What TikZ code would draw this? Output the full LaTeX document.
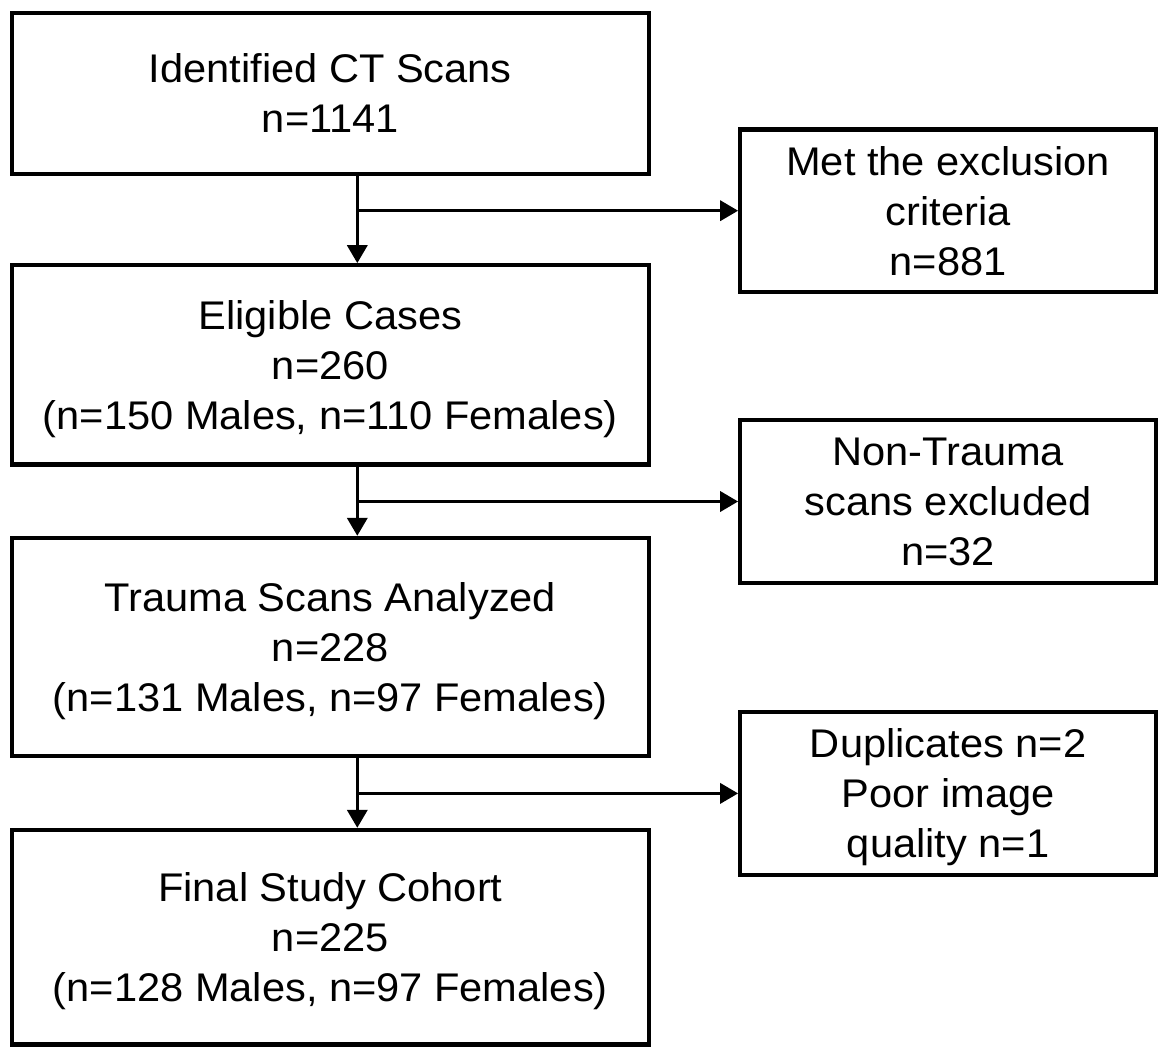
\documentclass[tikz,border=0pt]{standalone}
\usepackage{fontspec}
\setmainfont{Liberation Sans}[FakeStretch=1.04]
\usetikzlibrary{arrows.meta}
\begin{document}
\begin{tikzpicture}[x=1pt,y=-1pt,
  box/.style={draw=black, line width=4.3pt, rectangle, inner sep=0pt, align=center,
              font=\fontsize{40}{50}\selectfont, text depth=0pt},
  leftbox/.style={box, minimum width=636.7pt},
  rightbox/.style={box, minimum width=415.7pt, minimum height=162.7pt},
  flow/.style={line width=3.5pt, -{Triangle[width=20pt,length=18pt]}}]
\useasboundingbox (0,0) rectangle (1160,1047);
\fill[white] (0,0) rectangle (1160,1047);

\coordinate (spine) at (357.3,0);

\node[leftbox, minimum height=161pt] (A) at (330.35,93.2) {Identified CT Scans\\n=1141};
\node[leftbox, minimum height=199.2pt] (B) at (330.35,364.9) {Eligible Cases\\n=260\\(n=150 Males, n=110 Females)};
\node[leftbox, minimum height=218pt] (C) at (330.35,647) {Trauma Scans Analyzed\\n=228\\(n=131 Males, n=97 Females)};
\node[leftbox, minimum height=214.6pt] (D) at (330.35,937.3) {Final Study Cohort\\n=225\\(n=128 Males, n=97 Females)};

\node[rightbox] (R1) at (948.15,210.7) {Met the exclusion\\criteria\\n=881};
\node[rightbox] (R2) at (948.15,501.5) {Non-Trauma\\scans excluded\\n=32};
\node[rightbox] (R3) at (948.15,793.4) {Duplicates n=2\\Poor image\\quality n=1};

\draw[flow] (A.south -| spine) -- (B.north -| spine);
\draw[flow] (B.south -| spine) -- (C.north -| spine);
\draw[flow] (C.south -| spine) -- (D.north -| spine);

\draw[flow] (R1.west -| spine) -- (R1.west);
\draw[flow] (R2.west -| spine) -- (R2.west);
\draw[flow] (R3.west -| spine) -- (R3.west);
\end{tikzpicture}
\end{document}
